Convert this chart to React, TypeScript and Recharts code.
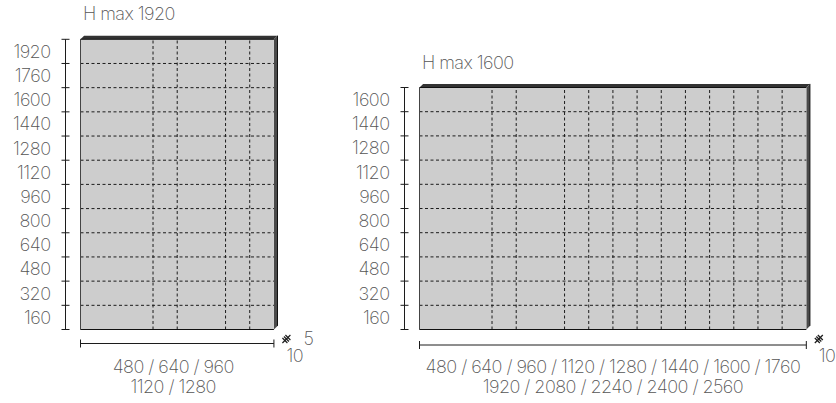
import React from "react";
import {
  ComposedChart,
  Area,
  XAxis,
  YAxis,
  ReferenceLine,
  ReferenceArea,
} from "recharts";

// panel sizes in mm
const leftWidths = [480, 640, 960, 1120, 1280];
const leftHeights = [160, 320, 480, 640, 800, 960, 1120, 1280, 1440, 1600, 1760, 1920];
const rightWidths = [480, 640, 960, 1120, 1280, 1440, 1600, 1760, 1920, 2080, 2240, 2400, 2560];
const rightHeights = [160, 320, 480, 640, 800, 960, 1120, 1280, 1440, 1600];
const leftWidthLines = ["480 / 640 / 960", "1120 / 1280"];
const rightWidthLines = [
  "480 / 640 / 960 / 1120 / 1280 / 1440 / 1600 / 1760",
  "1920 / 2080 / 2240 / 2400 / 2560",
];
const depthLabels = ["5", "10"];

const FONT = "Inter, sans-serif";
const TEXT = "#555";
const INK = "#1c1c1c";
const PX_PER_MM = 0.1511;
const DEPTH_PX = 3.6;

const textStyle = { fontFamily: FONT, fontWeight: 200, fontSize: 18, letterSpacing: -0.55, fill: TEXT };

const HeightTick = ({ x, y, payload }: any) => (
  <g>
    <line x1={x - 4} x2={x + 4} y1={y} y2={y} stroke={INK} strokeWidth={1} />
    {payload.value > 0 && (
      <text x={x - 15} y={y + 12} textAnchor="end" dominantBaseline="central" style={textStyle}>
        {payload.value}
      </text>
    )}
  </g>
);

const WidthTick = ({ x, y }: any) => (
  <line x1={x} x2={x} y1={y - 4} y2={y + 4} stroke={INK} strokeWidth={1} />
);

// thickness of the panel: top face and right face
const DepthShape = ({ x, y, width, height }: any) => {
  const right = x + width;
  const bottom = y + height;
  return (
    <g>
      <polygon
        points={`${x},${y + DEPTH_PX} ${x + DEPTH_PX},${y} ${right},${y} ${right - DEPTH_PX},${y + DEPTH_PX}`}
        fill="#333"
      />
      <polygon
        points={`${right - DEPTH_PX},${y + DEPTH_PX} ${right},${y} ${right},${bottom - DEPTH_PX} ${right - DEPTH_PX},${bottom}`}
        fill="#4a4a4a"
      />
      <line x1={right} x2={right} y1={y} y2={bottom - DEPTH_PX} stroke="#111" strokeWidth={1} />
    </g>
  );
};

interface PanelProps {
  title: string;
  widths: number[];
  heights: number[];
  widthLines: string[];
  left: number;
  chartWidth: number;
  plotLeft: number;
  plotTop: number;
  bracketGap: number;
  labelShift: number;
}

const PLOT_BOTTOM = 329.5;
const CHART_HEIGHT = 403;

const Panel: React.FC<PanelProps> = ({
  title,
  widths,
  heights,
  widthLines,
  left,
  chartWidth,
  plotLeft,
  plotTop,
  bracketGap,
  labelShift,
}) => {
  const maxW = widths[widths.length - 1];
  const maxH = heights[heights.length - 1];
  const plotWidth = maxW * PX_PER_MM;
  const centerX = plotLeft + plotWidth / 2 + labelShift;
  const data = [
    { w: 0, h: maxH },
    { w: maxW, h: maxH },
  ];
  const depthMm = DEPTH_PX / PX_PER_MM;
  const iconX = plotLeft + plotWidth + 12.5;
  const iconY = 339;

  return (
    <div style={{ position: "absolute", left, top: 0 }}>
      <ComposedChart
        width={chartWidth}
        height={CHART_HEIGHT}
        data={data}
        margin={{
          top: plotTop,
          left: 0,
          right: chartWidth - plotLeft - plotWidth,
          bottom: 0,
        }}
      >
        {/* empty axes only push the real ones away from the panel */}
        <XAxis xAxisId="gap" type="number" dataKey="w" domain={[0, maxW]} height={bracketGap} tick={false} axisLine={false} tickLine={false} />
        <XAxis
          xAxisId="size"
          type="number"
          dataKey="w"
          domain={[0, maxW]}
          ticks={[0, maxW]}
          height={CHART_HEIGHT - PLOT_BOTTOM - bracketGap}
          interval={0}
          tick={<WidthTick />}
          tickLine={false}
          tickSize={0}
          tickMargin={0}
          axisLine={{ stroke: INK, strokeWidth: 1 }}
        />
        <YAxis yAxisId="gap" type="number" domain={[0, maxH]} width={15} tick={false} axisLine={false} tickLine={false} />
        <YAxis
          yAxisId="size"
          type="number"
          domain={[0, maxH]}
          ticks={[0, ...heights]}
          width={plotLeft - 15}
          interval={0}
          tick={<HeightTick />}
          tickLine={false}
          tickSize={0}
          tickMargin={0}
          axisLine={{ stroke: INK, strokeWidth: 1 }}
        />

        <ReferenceArea
          xAxisId="size"
          yAxisId="size"
          x1={0}
          x2={maxW + depthMm}
          y1={0}
          y2={maxH + depthMm}
          ifOverflow="visible"
          shape={<DepthShape />}
        />
        <Area
          xAxisId="size"
          yAxisId="size"
          dataKey="h"
          type="linear"
          fill="#cdcdcd"
          fillOpacity={1}
          stroke="none"
          dot={false}
          activeDot={false}
          isAnimationActive={false}
        />
        {heights.slice(0, -1).map((h) => (
          <ReferenceLine key={h} xAxisId="size" yAxisId="size" y={h} stroke={INK} strokeWidth={1} strokeDasharray="3 2.5" />
        ))}
        {widths.slice(0, -1).map((w) => (
          <ReferenceLine key={w} xAxisId="size" yAxisId="size" x={w} stroke={INK} strokeWidth={1} strokeDasharray="3 2.5" />
        ))}
        {/* panel outline */}
        <ReferenceLine xAxisId="size" yAxisId="size" x={0} stroke="#444" strokeWidth={1} />
        <ReferenceLine xAxisId="size" yAxisId="size" y={0} stroke="#111" strokeWidth={1.2} />
        <ReferenceLine xAxisId="size" yAxisId="size" y={maxH} stroke="#111" strokeWidth={1} />

        <text x={plotLeft + 2.5} y={plotTop - 19} style={textStyle}>
          {title}
        </text>
        {widthLines.map((line, i) => (
          <text key={line} x={centerX} y={372.5 + i * 20} textAnchor="middle" style={textStyle}>
            {line}
          </text>
        ))}

        {/* depth symbol */}
        <g stroke={INK} strokeWidth={1.2}>
          <line x1={iconX - 4} y1={iconY + 4} x2={iconX + 4} y2={iconY - 4} />
          <line x1={iconX - 4} y1={iconY - 1} x2={iconX + 1} y2={iconY + 4} />
          <line x1={iconX - 2.5} y1={iconY - 2.5} x2={iconX + 2.5} y2={iconY + 2.5} />
          <line x1={iconX - 1} y1={iconY - 4} x2={iconX + 4} y2={iconY + 1} />
        </g>
        <text x={iconX + 17} y={iconY + 6} style={textStyle}>
          {depthLabels[0]}
        </text>
        <text x={iconX} y={iconY + 23} style={textStyle}>
          {depthLabels[1]}
        </text>
      </ComposedChart>
    </div>
  );
};

export default function App() {
  return (
    <div style={{ position: "fixed", left: 0, top: 0, width: 836, height: 403, background: "#fff", overflow: "hidden" }}>
      <Panel
        title="H max 1920"
        widths={leftWidths}
        heights={leftHeights}
        widthLines={leftWidthLines}
        left={0}
        chartWidth={400}
        plotLeft={80.5}
        plotTop={39.3}
        bracketGap={14}
        labelShift={-4}
      />
      <Panel
        title="H max 1600"
        widths={rightWidths}
        heights={rightHeights}
        widthLines={rightWidthLines}
        left={338.5}
        chartWidth={497.5}
        plotLeft={80.5}
        plotTop={87.5}
        bracketGap={15.5}
        labelShift={0}
      />
    </div>
  );
}
